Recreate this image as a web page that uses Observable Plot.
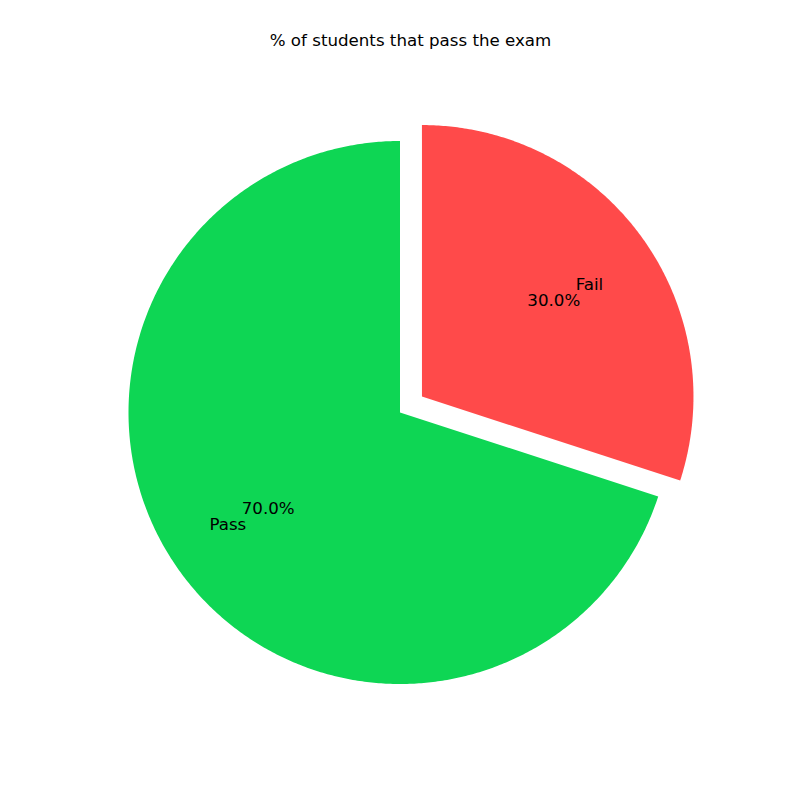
<!DOCTYPE html>
<html>
<head>
<meta charset="utf-8">
<script src="https://cdn.jsdelivr.net/npm/d3@7"></script>
<script src="https://cdn.jsdelivr.net/npm/@observablehq/plot@0.6"></script>
<style>
  html, body { margin: 0; padding: 0; background: #fff; }
  #chart svg { display: block; }
</style>
</head>
<body>
<div id="chart"></div>
<script>
const labels = ["Pass", "Fail"];
const values = [70, 30];
const colors = ["#0ed654", "#ff4a4a"];
const explode = [0, 0.1];
const titleText = "% of students that pass the exam";

// pie geometry (matplotlib style: startangle 90, counterclockwise)
const total = d3.sum(values);
const startAngle = Math.PI / 2;
let acc = startAngle;
const slices = values.map((v, i) => {
  const a0 = acc;
  const a1 = acc + (v / total) * 2 * Math.PI;
  acc = a1;
  const mid = (a0 + a1) / 2;
  const cx = explode[i] * Math.cos(mid);
  const cy = explode[i] * Math.sin(mid);
  return {label: labels[i], value: v, color: colors[i], a0, a1, mid, cx, cy};
});

// outline points of each wedge (derived from the values)
const outline = [];
slices.forEach((s, i) => {
  outline.push({slice: s.label, x: s.cx, y: s.cy});
  const n = Math.max(2, Math.ceil((s.a1 - s.a0) / (Math.PI / 360)));
  for (let k = 0; k <= n; k++) {
    const a = s.a0 + (s.a1 - s.a0) * k / n;
    outline.push({slice: s.label, x: s.cx + Math.cos(a), y: s.cy + Math.sin(a)});
  }
});

const labelPts = slices.map(s => ({
  text: s.label,
  x: s.cx + 0.7 * Math.cos(s.mid),
  y: s.cy + 0.7 * Math.sin(s.mid),
  anchor: Math.cos(s.mid) >= 0 ? "start" : "end"
}));
const pctPts = slices.map(s => ({
  text: (100 * s.value / total).toFixed(1) + "%",
  x: s.cx + 0.6 * Math.cos(s.mid),
  y: s.cy + 0.6 * Math.sin(s.mid)
}));

const R = 271.5, CX = 399.5, CY = 412, W = 800, H = 800;
const xDomain = [-CX / R, (W - CX) / R];
const yDomain = [-(H - CY) / R, CY / R];
const FS = 16.67;

const plot = Plot.plot({
  width: W,
  height: H,
  margin: 0,
  style: {fontFamily: "DejaVu Sans", background: "white"},
  x: {domain: xDomain, axis: null},
  y: {domain: yDomain, axis: null},
  color: {domain: labels, range: colors},
  marks: [
    Plot.line(outline, {x: "x", y: "y", z: "slice", fill: "slice", stroke: "none", curve: "linear-closed"}),
    Plot.text(labelPts.filter(d => d.anchor === "start"), {x: "x", y: "y", text: "text", textAnchor: "start", fontSize: FS, fill: "black"}),
    Plot.text(labelPts.filter(d => d.anchor === "end"), {x: "x", y: "y", text: "text", textAnchor: "end", fontSize: FS, fill: "black"}),
    Plot.text(pctPts, {x: "x", y: "y", text: "text", textAnchor: "middle", fontSize: FS, fill: "black"}),
    Plot.text([titleText], {frameAnchor: "top", dy: 40, dx: 10, text: d => d, fontSize: FS, fill: "black", lineAnchor: "middle"})
  ]
});
document.getElementById("chart").appendChild(plot);
</script>
</body>
</html>
